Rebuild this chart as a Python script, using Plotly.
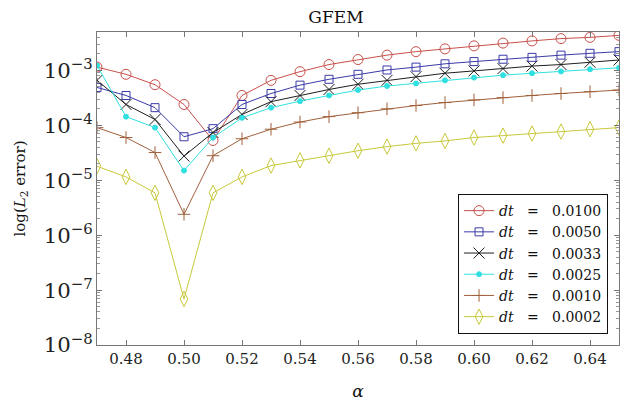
import plotly.graph_objects as go

alpha = [0.47, 0.48, 0.49, 0.50, 0.51, 0.52, 0.53, 0.54, 0.55, 0.56,
         0.57, 0.58, 0.59, 0.60, 0.61, 0.62, 0.63, 0.64, 0.65]

err_dt_0100 = [1.15e-3, 8.5e-4, 5.5e-4, 2.4e-4, 5.3e-5, 3.5e-4, 6.6e-4, 9.5e-4, 1.28e-3, 1.58e-3,
               1.9e-3, 2.2e-3, 2.47e-3, 2.8e-3, 3.15e-3, 3.45e-3, 3.8e-3, 4.0e-3, 4.35e-3]
err_dt_0050 = [4.9e-4, 3.5e-4, 2.1e-4, 6.2e-5, 8.7e-5, 2.4e-4, 3.8e-4, 5.4e-4, 6.9e-4, 8.5e-4,
               1.02e-3, 1.15e-3, 1.32e-3, 1.45e-3, 1.6e-3, 1.73e-3, 1.9e-3, 2.05e-3, 2.2e-3]
err_dt_0033 = [6.6e-4, 2.4e-4, 1.28e-4, 2.75e-5, 7.4e-5, 1.58e-4, 2.7e-4, 3.5e-4, 4.5e-4, 5.6e-4,
               6.6e-4, 7.7e-4, 8.9e-4, 9.8e-4, 1.08e-3, 1.2e-3, 1.28e-3, 1.41e-3, 1.55e-3]
err_dt_0025 = [1.23e-3, 1.44e-4, 9.1e-5, 1.5e-5, 6.0e-5, 1.37e-4, 2.1e-4, 2.76e-4, 3.5e-4, 4.4e-4,
               5.2e-4, 5.8e-4, 6.6e-4, 7.4e-4, 8.2e-4, 8.9e-4, 9.6e-4, 1.05e-3, 1.12e-3]
err_dt_0010 = [9.1e-5, 6.0e-5, 3.2e-5, 2.4e-6, 2.8e-5, 5.7e-5, 8.5e-5, 1.15e-4, 1.44e-4, 1.7e-4,
               2.0e-4, 2.3e-4, 2.6e-4, 2.9e-4, 3.2e-4, 3.5e-4, 3.8e-4, 4.1e-4, 4.4e-4]
err_dt_0002 = [1.8e-5, 1.15e-5, 5.9e-6, 6.9e-8, 5.9e-6, 1.15e-5, 1.85e-5, 2.3e-5, 2.8e-5, 3.45e-5,
               4.1e-5, 4.7e-5, 5.2e-5, 6.0e-5, 6.5e-5, 7.1e-5, 7.7e-5, 8.5e-5, 9.1e-5]

dt_labels = ["0.0100", "0.0050", "0.0033", "0.0025", "0.0010", "0.0002"]
series_vals = [err_dt_0100, err_dt_0050, err_dt_0033, err_dt_0025, err_dt_0010, err_dt_0002]

colors = ["#c8504b", "#3a3aa8", "#1e1e1e", "#30e0e0", "#a0603a", "#c8c83a"]
symbols = ["circle-open", "square-open", "x-thin-open", "circle", "cross-thin-open", "diamond-tall-open"]
sizes = [10, 8, 11, 5, 9, 11]

FONT = "DejaVu Serif"

fig = go.Figure()
for lab, vals, c, s, sz in zip(dt_labels, series_vals, colors, symbols, sizes):
    fig.add_trace(go.Scatter(
        x=alpha, y=vals, name="<i>dt</i>&nbsp;&nbsp;&nbsp;=&nbsp;&nbsp;&nbsp;" + lab, mode="lines+markers",
        line=dict(color=c, width=1),
        marker=dict(symbol=s, size=sz, color=c, line=dict(color=c, width=1)),
    ))

axis_common = dict(
    showline=True, linecolor="#777777", linewidth=1, mirror="allticks",
    ticks="inside", tickcolor="#777777", ticklen=5, showgrid=False, zeroline=False,
)

fig.update_layout(
    width=621, height=401,
    margin=dict(l=97, r=1, t=32, b=54),
    paper_bgcolor="white", plot_bgcolor="white",
    title=dict(text="GFEM", x=0.541, xanchor="center", y=0.972, yanchor="top",
               font=dict(family=FONT, size=17, color="#111111")),
    xaxis=dict(range=[0.47, 0.65], dtick=0.02, tick0=0.48, tickformat=".2f",
               tickfont=dict(family=FONT, size=15, color="#222222"),
               title=dict(text="<i>α</i>", font=dict(family=FONT, size=17, color="#111111"), standoff=20),
               **axis_common),
    yaxis=dict(type="log", range=[-8, -2.3], dtick=1, exponentformat="power",
               tickfont=dict(family=FONT, size=17, color="#222222"),
               minor=dict(ticks="inside", ticklen=3, tickcolor="#999999", dtick="D1", showgrid=False),
               title=dict(text="log(<i>L</i><sub>2</sub> error)", font=dict(family=FONT, size=15, color="#111111"), standoff=14),
               **axis_common),
    legend=dict(x=0.979, xanchor="right", y=0.035, yanchor="bottom",
                bordercolor="#111111", borderwidth=1, bgcolor="white",
                font=dict(family=FONT, size=14, color="#111111"),
                tracegroupgap=0, itemsizing="trace"),
    showlegend=True,
)

fig.write_html("out.html")
